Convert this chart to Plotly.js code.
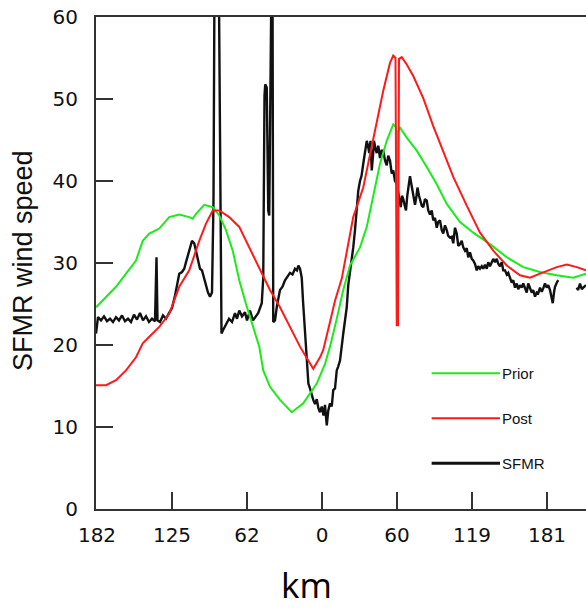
<!DOCTYPE html>
<html>
<head>
<meta charset="utf-8">
<script src="https://cdn.plot.ly/plotly-3.0.1.min.js"></script>
<style>html,body{margin:0;padding:0;background:#fff;}#chart{width:586px;height:611px;}</style>
</head>
<body>
<div id="chart"></div>
<script>
// x tick positions (distance index) and their km labels
var xTickVals = [-180, -120, -60, 0, 60, 120, 180];
var xTickText = ['182', '125', '62', '0', '60', '119', '181'];
var yTickVals = [0, 10, 20, 30, 40, 50, 60];

var seriesNames = ['Prior', 'Post', 'SFMR'];

// Prior (green) [x, wind speed]
var priorPoints = [[-180.8,24.6],[-172.8,25.8],[-164.8,27.1],[-156.8,28.7],[-148.8,30.3],[-143.4,32.7],[-138.2,33.6],[-130.2,34.2],[-122.2,35.6],[-114.2,35.9],[-106.2,35.6],[-103.4,35.4],[-100.8,36.0],[-94.2,37.1],[-87.4,36.8],[-82.2,35.8],[-76.8,34.0],[-71.4,31.5],[-66.2,27.9],[-60.8,25.0],[-55.4,22.2],[-50.2,19.8],[-47,16.9],[-41.6,14.9],[-33.6,13.3],[-24.2,11.8],[-15,12.9],[-9.6,14.1],[-4.2,15.3],[2.4,17.7],[6.4,19.8],[11.8,23.2],[17,26.7],[22.4,29.7],[30.4,31.9],[35.8,34.4],[41,38.4],[46.4,42.1],[51.8,44.9],[57,46.9],[59.4,46.6],[60.2,34.0],[61,46.1],[62.4,46.5],[67.8,45.3],[75.8,43.7],[83.8,41.7],[91.8,39.6],[99.8,37.2],[110.4,35.0],[121,33.7],[134.4,32.3],[147.8,30.7],[161,29.5],[174.4,28.9],[187.8,28.5],[201,28.2],[211.2,28.7]];

// Post (red)
var postPoints = [[-180.8,15.1],[-172.8,15.1],[-164.8,15.7],[-156.8,16.9],[-148.8,18.5],[-143.4,20.2],[-138.2,21.0],[-130.2,22.2],[-122.2,23.8],[-114.2,27.1],[-106.2,29.1],[-98.2,32.7],[-92.8,34.8],[-87.4,36.4],[-82.2,36.4],[-74.2,35.6],[-66.2,34.4],[-58.2,31.9],[-50.2,29.5],[-41.6,26.7],[-33.6,24.6],[-25.6,22.2],[-17.6,19.8],[-11,18.1],[-7,17.1],[-1.6,18.5],[1,19.4],[6.4,22.8],[10.4,25.4],[15.8,28.1],[18.4,30.1],[25,35.6],[33,39.2],[41,44.9],[49,51.0],[54.4,54.4],[57,55.3],[58.8,55.0],[59.8,22.4],[60.8,22.4],[61.6,54.9],[63.8,55.1],[67.8,54.2],[73,52.8],[81,50.1],[89,46.7],[97,43.7],[105,40.5],[115.8,37.0],[126.4,33.7],[137,31.5],[147.8,29.7],[158.4,28.5],[166.4,28.2],[174.4,28.7],[187.8,29.5],[195.8,29.8],[203.8,29.5],[211.2,29.1]];

// SFMR observations (black)
var sfmrPoints = [[-180.8,21.4],[-179.2,23.4],[-176.8,23.0],[-174.4,23.5],[-172,22.9],[-169.6,23.2],[-167.2,22.8],[-164.8,23.4],[-162.4,23.0],[-160,23.6],[-157.6,22.9],[-155.2,23.2],[-152.8,22.8],[-150.4,23.7],[-148,23.1],[-145.6,23.9],[-143.2,23.0],[-140.8,23.5],[-138.4,22.8],[-136,23.2],[-133.6,22.9],[-132.4,30.7],[-131.6,23.0],[-129.6,22.8],[-127.2,23.6],[-124.8,23.2],[-122.4,23.9],[-120,24.5],[-117.6,26.0],[-116,27.3],[-114.2,28.7],[-112,28.9],[-110.2,29.3],[-108.8,30.1],[-107.2,30.9],[-105.6,31.9],[-104,32.7],[-102.2,32.4],[-100.8,31.5],[-99.2,30.5],[-97.6,29.3],[-96,29.1],[-94.2,28.1],[-92.8,27.3],[-91.2,26.4],[-89.6,25.9],[-88,26.4],[-86.8,37.6],[-86,65],[-84.8,65],[-83.6,65],[-82.4,62],[-81.6,43.7],[-80.4,21.4],[-79.2,21.8],[-76.8,22.6],[-74.4,23.2],[-72,22.8],[-69.6,23.9],[-68,23.2],[-66.2,24.2],[-64,23.5],[-61.6,24.0],[-60,23.0],[-57.6,24.2],[-55.2,23.0],[-52.8,23.6],[-51,23.9],[-48.2,25.1],[-47,28.2],[-46,50.4],[-45.4,51.8],[-44.2,51.4],[-43.6,43.7],[-43,36.4],[-42.2,35.8],[-40.4,65],[-39.6,65],[-39,22.8],[-37.6,23.0],[-36,24.8],[-33.6,26.7],[-31.6,27.1],[-29.6,27.9],[-27.6,28.4],[-25.6,28.8],[-23.6,28.6],[-21.6,29.3],[-20,29.1],[-18.9,29.7],[-17.6,29.3],[-16.2,28.2],[-15.2,25.4],[-13.6,21.8],[-11.8,18.1],[-10.9,15.3],[-9.6,14.7],[-8.2,13.9],[-7,13.3],[-5.6,12.8],[-4.2,13.4],[-2.9,12.3],[-1.6,11.8],[-0.2,12.5],[1.2,11.4],[2.4,12.7],[3.8,10.2],[5,12.0],[6.4,12.9],[7.8,12.5],[9,14.5],[10.4,14.7],[11.8,16.9],[13,17.4],[14.4,18.1],[17,21.4],[19.8,24.6],[21,27.3],[22.4,28.7],[24,30.3],[25,31.9],[26.4,34.0],[27.8,36.8],[29,38.8],[30.4,40.0],[31.6,40.6],[33,42.1],[34.4,43.7],[35.8,44.9],[36.8,44.3],[37.8,43.4],[38.8,44.9],[39.8,41.3],[40.8,43.1],[41.6,44.9],[42.8,43.9],[43.8,43.4],[45,44.3],[46.4,42.8],[47.6,43.7],[49,43.7],[50.4,42.5],[51.8,41.9],[53,43.1],[54.4,42.5],[55.8,40.9],[57,41.3],[58.4,40.0],[59.8,39.7],[61,38.6],[62,37.6],[63,36.8],[64,38.2],[65,37.8],[66.2,37.0],[67.2,36.4],[68.2,38.2],[69,39.3],[70.4,40.6],[71.4,39.7],[72.6,38.6],[73.6,37.8],[74.4,37.1],[75.6,38.2],[76.4,39.2],[77.6,38.2],[78.4,37.6],[79.8,37.0],[81,36.8],[82.4,37.8],[83.8,37.6],[85,36.4],[86.4,35.9],[87.8,36.4],[89,35.2],[90.4,35.5],[91.8,34.3],[93,35.0],[94.4,35.2],[95.8,34.0],[97,33.6],[98.4,34.6],[99.8,34.0],[101,33.3],[102.4,33.1],[103.8,33.2],[105,32.4],[106.4,34.3],[107.8,33.6],[109,32.1],[110.4,32.3],[111.8,32.7],[113,31.9],[114.4,31.5],[115.8,31.8],[117,30.7],[118.4,31.3],[119.8,30.5],[121,30.3],[122.4,29.9],[123.8,29.1],[125,29.6],[126.4,29.3],[127.8,29.6],[129,29.3],[130.4,29.8],[131.8,29.3],[133,30.1],[134.4,29.6],[135.8,30.1],[137,30.5],[138.4,30.1],[139.8,30.5],[141,29.9],[142.4,29.6],[143.8,30.1],[145,29.1],[146.4,29.1],[147.8,28.6],[149,28.8],[150.4,28.2],[151.8,27.6],[153,27.9],[154.4,27.0],[155.8,27.5],[157,26.8],[158.4,27.3],[159.8,27.0],[161,27.5],[162.4,26.9],[163.8,26.4],[165,27.5],[166.4,26.9],[167.8,26.4],[169,26.7],[170.4,25.9],[171.8,26.4],[173,26.3],[174.4,27.0],[175.8,26.5],[177,26.9],[178.4,27.5],[179.8,27.0],[181,27.3],[182.4,26.7],[183.6,25.9],[184.6,25.1],[185.6,26.4],[186.4,27.1],[187.8,27.6],[189,27.9],[196,null],[203.8,27.0],[204.8,26.7],[206.4,27.5],[207.8,26.8],[209,27.0],[211.2,27.3]];

var seriesColors = ['#1aec1a', '#ff1a1a', '#111111'];

function col(points, i) { return points.map(function (p) { return p[i]; }); }

var allPoints = [priorPoints, postPoints, sfmrPoints];
var traces = allPoints.map(function (pts, k) {
  return {
    type: 'scatter', mode: 'lines', name: seriesNames[k],
    x: col(pts, 0), y: col(pts, 1),
    line: { color: seriesColors[k], width: k === 2 ? 2.4 : 2 },
    connectgaps: false, showlegend: false
  };
});
traces = [traces[2], traces[0], traces[1]];

var legendY = [0.2758, 0.1843, 0.0929];
var shapes = [], annotations = [];
seriesNames.forEach(function (n, k) {
  shapes.push({ type: 'line', xref: 'paper', yref: 'paper', x0: 0.685, x1: 0.8245, y0: legendY[k], y1: legendY[k],
    line: { color: seriesColors[k], width: k === 2 ? 3 : 2 } });
  annotations.push({ xref: 'paper', yref: 'paper', x: 0.8235, y: legendY[k], xanchor: 'left', yanchor: 'middle',
    text: n, showarrow: false, font: { family: 'Liberation Sans, Arial, sans-serif', size: 15, color: '#111' } });
});
annotations.push({ xref: 'paper', yref: 'paper', x: -0.149, y: 0.506, xanchor: 'center', yanchor: 'middle',
  textangle: -90, text: 'SFMR wind speed', showarrow: false,
  font: { family: 'Liberation Sans, Arial, sans-serif', size: 27, color: '#111' } });
annotations.push({ xref: 'paper', yref: 'paper', x: 0.4286, y: -0.203, xanchor: 'center', yanchor: 'bottom',
  text: 'km', showarrow: false, borderpad: 0, font: { family: 'Open Sans, sans-serif', size: 35, color: '#000' } });

var tickFont = { family: 'DejaVu Sans, sans-serif', size: 20, color: '#111' };
var layout = {
  width: 586, height: 611,
  margin: { l: 96, r: 0, t: 17, b: 102 },
  paper_bgcolor: '#fff', plot_bgcolor: '#fff',
  showlegend: false,
  xaxis: {
    range: [-180.8, 211.2], tickmode: 'array', tickvals: xTickVals, ticktext: xTickText,
    ticks: 'inside', ticklen: 17, tickwidth: 1.5, tickcolor: '#333',
    showline: true, linecolor: '#333', linewidth: 2, mirror: true,
    showgrid: false, zeroline: false, tickfont: tickFont, ticklabelstandoff: 7
  },
  yaxis: {
    range: [0, 60], tickmode: 'array', tickvals: yTickVals,
    ticks: 'inside', ticklen: 17, tickwidth: 1.5, tickcolor: '#333',
    showline: true, linecolor: '#333', linewidth: 2, mirror: false,
    showgrid: false, zeroline: false, tickfont: tickFont, ticklabelstandoff: 12
  },
  shapes: shapes,
  annotations: annotations
};

Plotly.newPlot('chart', traces, layout, { displayModeBar: false, staticPlot: true });
</script>
</body>
</html>
